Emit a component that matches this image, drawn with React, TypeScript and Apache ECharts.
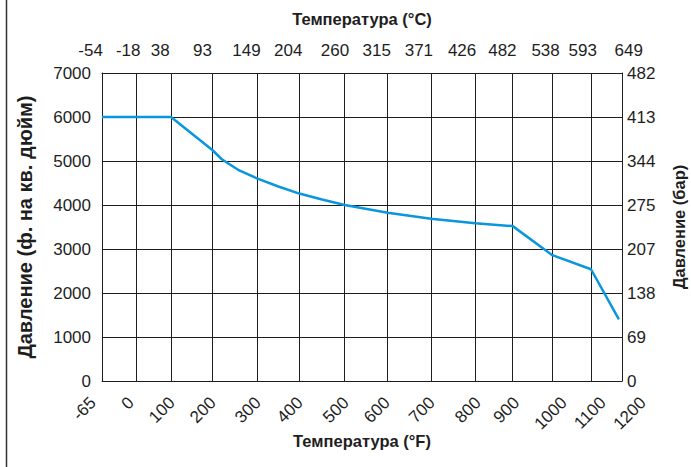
import React, { useEffect, useRef } from "react";
import * as echarts from "echarts";

// ---- data ----
const tempF = [-65, 0, 100, 200, 300, 400, 500, 600, 700, 800, 900, 1000, 1100, 1200];
const tempC = [-54, -18, 38, 93, 149, 204, 260, 315, 371, 426, 482, 538, 593, 649];
const psiTicks = [0, 1000, 2000, 3000, 4000, 5000, 6000, 7000];
const barTicks = [0, 69, 138, 207, 275, 344, 413, 482];
const curveF = [-65, 100, 200, 221, 257, 300, 350, 400, 450, 500, 600, 700, 800, 900, 1000, 1100, 1190];
const curvePsi = [6000, 6000, 5250, 5040, 4800, 4600, 4420, 4260, 4125, 4000, 3825, 3690, 3585, 3520, 2860, 2540, 1400];

// ---- layout (the reference's temperature scale is unevenly spaced) ----
const PLOT_LEFT = 102;
const PLOT_TOP = 73;
const PLOT_W = 520;
const PLOT_H = 308;
const GRID_PX = [0, 34.7, 69, 110.3, 155.5, 197.3, 242.7, 285.7, 329, 373.3, 410.7, 450.3, 489, 520];
const TOP_LABEL_PX = [-11.4, 26.2, 58.3, 100.5, 144.5, 186.3, 233, 274.7, 316.9, 360.1, 400.4, 443.6, 480.8, 526.7];
const BOTTOM_LABEL_PX = [-9, 29, 70, 111, 156, 198, 244, 285, 330, 376, 414.5, 462, 501, 541];
const LBL_LEFT = 40;
const LBL_W = 641;

const FONT = "'Liberation Sans', Arial, sans-serif";
const INK = "#1e1e1e";

function warpF(f: number): number {
  for (let i = 0; i < tempF.length - 1; i++) {
    if (f <= tempF[i + 1] || i === tempF.length - 2) {
      const t = (f - tempF[i]) / (tempF[i + 1] - tempF[i]);
      return GRID_PX[i] + t * (GRID_PX[i + 1] - GRID_PX[i]);
    }
  }
  return 0;
}

function lookup(positions: number[], labels: number[]) {
  return (v: number) => {
    let best = 0;
    for (let i = 1; i < positions.length; i++) {
      if (Math.abs(positions[i] - v) < Math.abs(positions[best] - v)) best = i;
    }
    return String(labels[best]);
  };
}

export default function App() {
  const ref = useRef<HTMLDivElement>(null);
  useEffect(() => {
    document.body.style.margin = "0";
    const chart = echarts.init(ref.current!, null, { renderer: "svg" });
    const labelStyle = { fontFamily: FONT, fontSize: 17, color: INK };
    const nameStyle = { fontFamily: FONT, fontSize: 16.5, fontWeight: "bold" as const, color: INK };
    chart.setOption({
      animation: false,
      backgroundColor: "#ffffff",
      textStyle: { fontFamily: FONT },
      grid: [
        { left: PLOT_LEFT, top: PLOT_TOP, width: PLOT_W, height: PLOT_H, outerBoundsMode: "none" },
        { left: LBL_LEFT, top: PLOT_TOP, width: LBL_W, height: PLOT_H, outerBoundsMode: "none" },
      ],
      xAxis: [
        {
          gridIndex: 0,
          type: "value",
          position: "bottom",
          min: 0,
          max: PLOT_W,
          axisLine: { show: true, onZero: false, lineStyle: { color: INK, width: 1 } },
          axisTick: { show: false, customValues: GRID_PX },
          axisLabel: { show: false },
          splitLine: { show: true, lineStyle: { color: INK, width: 1 } },
          name: "Температура (°F)",
          nameLocation: "middle",
          nameGap: 51,
          nameTextStyle: nameStyle,
        },
        {
          gridIndex: 0,
          type: "value",
          position: "top",
          min: 0,
          max: PLOT_W,
          axisLine: { show: true, onZero: false, lineStyle: { color: INK, width: 1 } },
          axisTick: { show: false },
          axisLabel: { show: false },
          splitLine: { show: false },
          name: "Температура (°C)",
          nameLocation: "middle",
          nameGap: 46,
          nameTextStyle: nameStyle,
        },
        {
          gridIndex: 1,
          type: "value",
          position: "bottom",
          min: LBL_LEFT - PLOT_LEFT,
          max: LBL_LEFT - PLOT_LEFT + LBL_W,
          axisLine: { show: false },
          axisTick: { show: false },
          splitLine: { show: false },
          axisLabel: {
            ...labelStyle,
            rotate: 45,
            margin: 19,
            customValues: BOTTOM_LABEL_PX,
            formatter: lookup(BOTTOM_LABEL_PX, tempF),
          },
        },
        {
          gridIndex: 1,
          type: "value",
          position: "top",
          min: LBL_LEFT - PLOT_LEFT,
          max: LBL_LEFT - PLOT_LEFT + LBL_W,
          axisLine: { show: false },
          axisTick: { show: false },
          splitLine: { show: false },
          axisLabel: {
            ...labelStyle,
            margin: 14,
            customValues: TOP_LABEL_PX,
            formatter: lookup(TOP_LABEL_PX, tempC),
          },
        },
      ],
      yAxis: [
        {
          gridIndex: 0,
          type: "value",
          position: "left",
          min: psiTicks[0],
          max: psiTicks[psiTicks.length - 1],
          interval: 1000,
          axisLine: { show: true, onZero: false, lineStyle: { color: INK, width: 1 } },
          axisTick: { show: false },
          axisLabel: { ...labelStyle, margin: 11, formatter: (v: number) => String(v) },
          splitLine: { show: true, lineStyle: { color: INK, width: 1 } },
          name: "Давление (ф. на кв. дюйм)",
          nameLocation: "middle",
          nameGap: 67,
          nameTextStyle: { ...nameStyle, fontSize: 20 },
        },
        {
          gridIndex: 0,
          type: "value",
          position: "right",
          min: psiTicks[0],
          max: psiTicks[psiTicks.length - 1],
          interval: 1000,
          axisLine: { show: true, onZero: false, lineStyle: { color: INK, width: 1 } },
          axisTick: { show: false },
          axisLabel: {
            ...labelStyle,
            margin: 5,
            formatter: (v: number) => String(barTicks[psiTicks.indexOf(v)]),
          },
          splitLine: { show: false },
          name: "Давление (бар)",
          nameLocation: "middle",
          nameGap: 48,
          nameTextStyle: nameStyle,
        },
        {
          gridIndex: 1,
          type: "value",
          show: false,
          min: 0,
          max: 1,
        },
      ],
      series: [
        {
          type: "line",
          xAxisIndex: 0,
          yAxisIndex: 0,
          data: curveF.map((f, i) => [warpF(f), curvePsi[i]]),
          symbol: "none",
          lineStyle: { color: "#0a96dc", width: 2.5 },
          z: 5,
        },
      ],
      graphic: [
        {
          type: "line",
          shape: { x1: 6.5, y1: 0, x2: 6.5, y2: 467 },
          style: { stroke: "#333", lineWidth: 1.5 },
        },
      ],
    });
    return () => chart.dispose();
  }, []);
  return <div ref={ref} style={{ width: 691, height: 467 }} />;
}
